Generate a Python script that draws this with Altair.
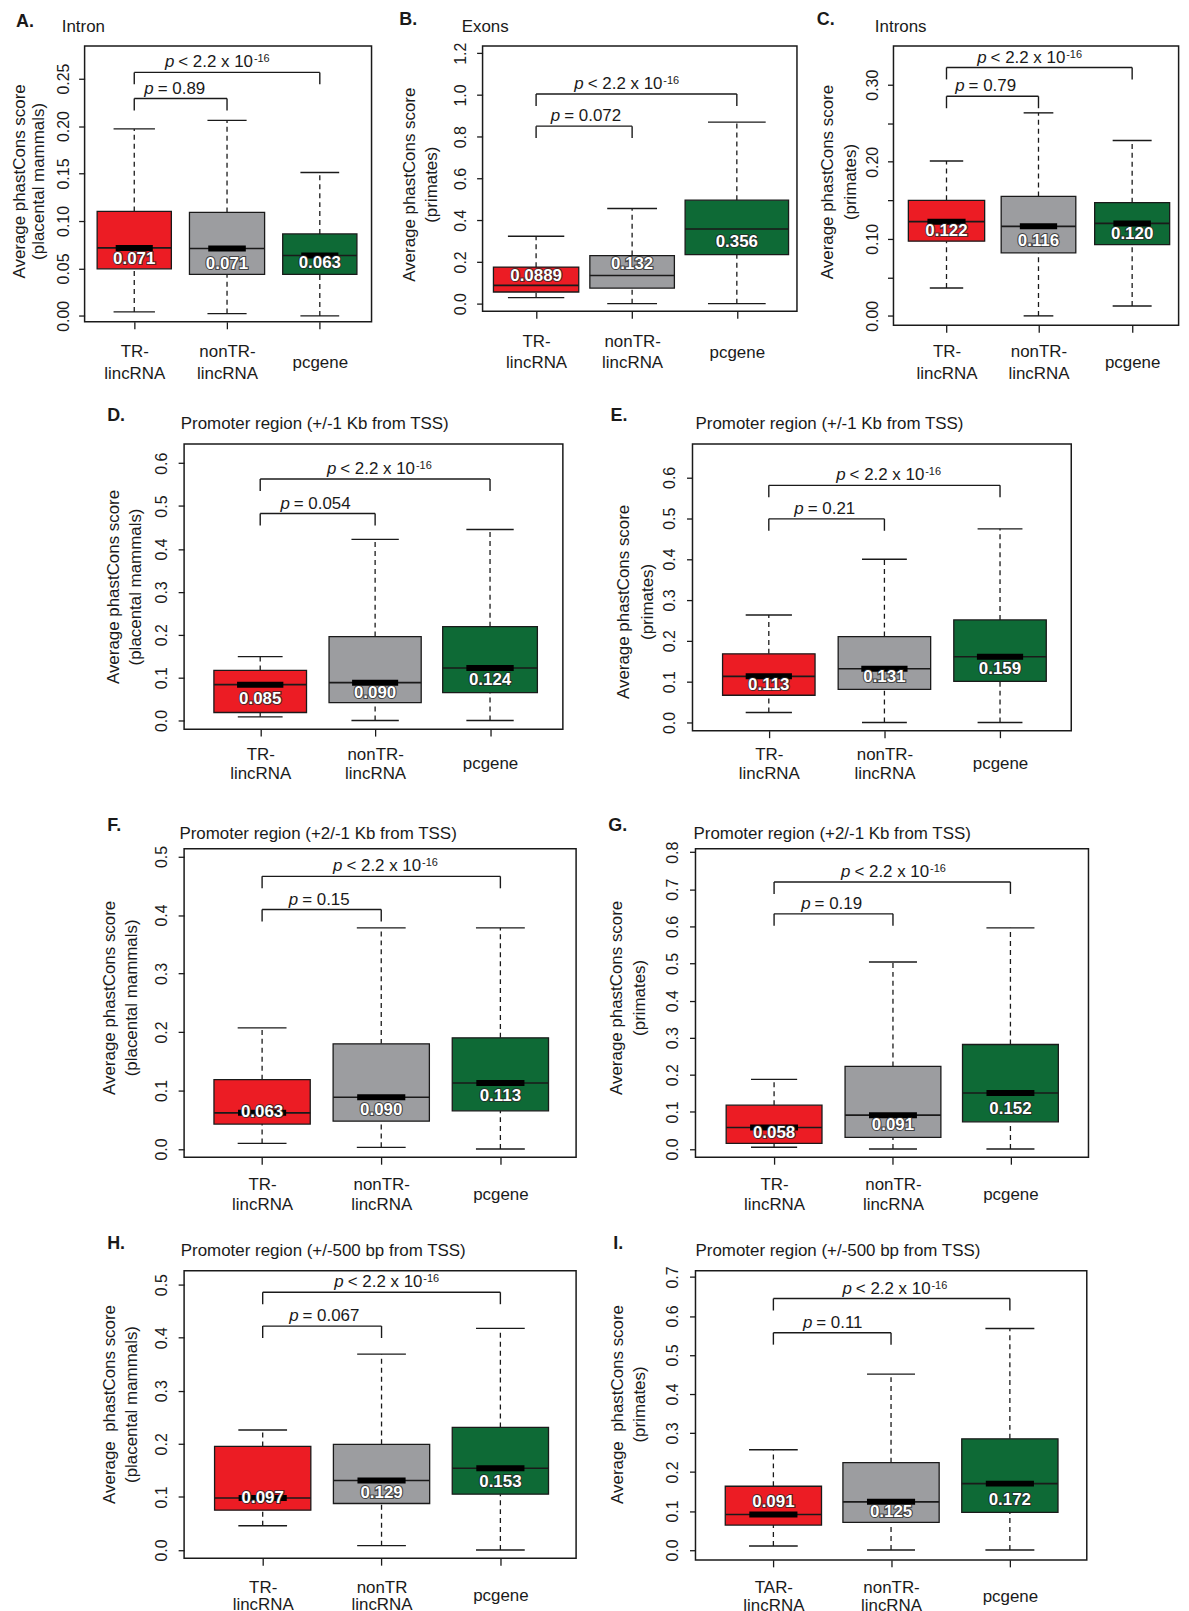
import altair as alt
import pandas as pd

FONT = "Liberation Sans"
INK = "#1a1a1a"

GROUPS = ["TR-lincRNA", "nonTR-lincRNA", "pcgene"]
BOX_FILLS = ["#EC1C24", "#9C9DA0", "#0E6A36"]
OUTER_P = "< 2.2 x 10"
OUTER_EXP = "-16"

# ---------------- data ----------------
# A. Intron (placental mammals)
A_low = [0.0042, 0.0024, 0.0000]
A_q1 = [0.0496, 0.0437, 0.0437]
A_med = [0.0716, 0.0710, 0.0636]
A_q3 = [0.1100, 0.1090, 0.0863]
A_high = [0.1970, 0.2060, 0.1510]
A_text = ["0.071", "0.071", "0.063"]
A_text_y = [0.0600, 0.0549, 0.0556]
A_p = "0.89"
A_bracket_y = [0.2290, 0.2565]

# B. Exons (primates)
B_low = [0.0286, 0.0000, 0.0000]
B_q1 = [0.0556, 0.0747, 0.2350]
B_med = [0.0874, 0.1350, 0.3580]
B_q3 = [0.1750, 0.2305, 0.4960]
B_high = [0.3227, 0.4560, 0.8700]
B_text = ["0.0889", "0.132", "0.356"]
B_text_y = [0.1320, 0.1876, 0.2940]
B_p = "0.072"
B_bracket_y = [0.8506, 1.0048]

# C. Introns (primates)
C_low = [0.0362, 0.0000, 0.0129]
C_q1 = [0.0969, 0.0818, 0.0926]
C_med = [0.1223, 0.1162, 0.1200]
C_q3 = [0.1500, 0.1550, 0.1470]
C_high = [0.2010, 0.2635, 0.2277]
C_text = ["0.122", "0.116", "0.120"]
C_text_y = [0.1098, 0.0969, 0.1068]
C_p = "0.79"
C_bracket_y = [0.2850, 0.3224]

# D. Promoter +/-1 Kb (placental mammals)
D_low = [0.0085, 0.0000, 0.0000]
D_q1 = [0.0186, 0.0418, 0.0650]
D_med = [0.0835, 0.0882, 0.1222]
D_q3 = [0.1168, 0.1957, 0.2189]
D_high = [0.1490, 0.4223, 0.4455]
D_text = ["0.085", "0.090", "0.124"]
D_text_y = [0.0495, 0.0650, 0.0951]
D_p = "0.054"
D_bracket_y = [0.4826, 0.5630]

# E. Promoter +/-1 Kb (primates)
E_low = [0.0244, 0.0000, 0.0000]
E_q1 = [0.0666, 0.0812, 0.1007]
E_med = [0.1129, 0.1315, 0.1608]
E_q3 = [0.1680, 0.2103, 0.2510]
E_high = [0.2630, 0.3995, 0.4740]
E_text = ["0.113", "0.131", "0.159"]
E_text_y = [0.0909, 0.1110, 0.1315]
E_p = "0.21"
E_bracket_y = [0.4985, 0.5805]

# F. Promoter +2/-1 Kb (placental mammals)
F_low = [0.0096, 0.0028, 0.0000]
F_q1 = [0.0425, 0.0476, 0.0652]
F_med = [0.0618, 0.0884, 0.1128]
F_q3 = [0.1185, 0.1797, 0.1900]
F_high = [0.2070, 0.3780, 0.3780]
F_text = ["0.063", "0.090", "0.113"]
F_text_y = [0.0635, 0.0663, 0.0907]
F_p = "0.15"
F_bracket_y = [0.4093, 0.4660]

# G. Promoter +2/-1 Kb (primates)
G_low = [0.0045, 0.0000, 0.0000]
G_q1 = [0.0152, 0.0313, 0.0733]
G_med = [0.0581, 0.0912, 0.1510]
G_q3 = [0.1180, 0.2226, 0.2816]
G_high = [0.1877, 0.5040, 0.5960]
G_text = ["0.058", "0.091", "0.152"]
G_text_y = [0.0420, 0.0644, 0.1064]
G_p = "0.19"
G_bracket_y = [0.6338, 0.7196]

# H. Promoter +/-500 bp (placental mammals)
H_low = [0.0456, 0.0081, 0.0000]
H_q1 = [0.0750, 0.0875, 0.1050]
H_med = [0.0980, 0.1310, 0.1540]
H_q3 = [0.1950, 0.1990, 0.2310]
H_high = [0.2260, 0.3690, 0.4175]
H_text = ["0.097", "0.129", "0.153"]
H_text_y = [0.0980, 0.1080, 0.1280]
H_p = "0.067"
H_bracket_y = [0.4219, 0.4856]

# I. Promoter +/-500 bp (primates)
I_low = [0.0102, 0.0000, 0.0000]
I_q1 = [0.0638, 0.0706, 0.0961]
I_med = [0.0910, 0.1233, 0.1701]
I_q3 = [0.1633, 0.2237, 0.2850]
I_high = [0.2569, 0.4508, 0.5680]
I_text = ["0.091", "0.125", "0.172"]
I_text_y = [0.1233, 0.0978, 0.1276]
I_p = "0.11"
I_bracket_y = [0.5571, 0.6447]

LABELS_STD = ["TR-\nlincRNA", "nonTR-\nlincRNA", "pcgene"]
LABELS_H = ["TR-\nlincRNA", "nonTR\nlincRNA", "pcgene"]
LABELS_I = ["TAR-\nlincRNA", "nonTR-\nlincRNA", "pcgene"]

TITLE_MAM = ["Average phastCons score", "(placental mammals)"]
TITLE_PRI = ["Average phastCons score", "(primates)"]
TITLE_MAM2 = ["Average\u00a0\u00a0phastCons score", "(placental mammals)"]
TITLE_PRI2 = ["Average\u00a0\u00a0phastCons score", "(primates)"]

DATA = {
    "A": (A_low, A_q1, A_med, A_q3, A_high, A_text, A_text_y, A_p, A_bracket_y),
    "B": (B_low, B_q1, B_med, B_q3, B_high, B_text, B_text_y, B_p, B_bracket_y),
    "C": (C_low, C_q1, C_med, C_q3, C_high, C_text, C_text_y, C_p, C_bracket_y),
    "D": (D_low, D_q1, D_med, D_q3, D_high, D_text, D_text_y, D_p, D_bracket_y),
    "E": (E_low, E_q1, E_med, E_q3, E_high, E_text, E_text_y, E_p, E_bracket_y),
    "F": (F_low, F_q1, F_med, F_q3, F_high, F_text, F_text_y, F_p, F_bracket_y),
    "G": (G_low, G_q1, G_med, G_q3, G_high, G_text, G_text_y, G_p, G_bracket_y),
    "H": (H_low, H_q1, H_med, H_q3, H_high, H_text, H_text_y, H_p, H_bracket_y),
    "I": (I_low, I_q1, I_med, I_q3, I_high, I_text, I_text_y, I_p, I_bracket_y),
}


def steps(n, d):
    return [round(i * d, 3) for i in range(n + 1)]


# ---------------- layout (page pixel geometry, sizes, styles) ----------------
# frame = (left, right, bottom); the frame top is shared by the row.
# ycal = (page y of value 0, pixels per unit); xcal = (page x of box 1, pixels per unit)
# The first row's invisible cell starts above the page (TOP_CELL) and the negative
# top padding brings page coordinates back to the layout coordinates used here.
TOP_CELL = -20
PAGE_TOP_SHIFT = 13   # page offset of the chart's top edge (body margin + embed offset)
ROWS = [
    dict(keys=["A", "B", "C"], top=46, cell_top=TOP_CELL, cell_bottom=395, bounds=[9, 385, 805, 1180]),
    dict(keys=["D", "E"], top=444, cell_top=395, cell_bottom=800, bounds=[9, 585, 1180]),
    dict(keys=["F", "G"], top=849, cell_top=800, cell_bottom=1222, bounds=[9, 592, 1180]),
    dict(keys=["H", "I"], top=1271, cell_top=1222, cell_bottom=1611, bounds=[9, 592, 1180]),
]
TEXT_DY = 0.0

LAYOUT = {
    "A": dict(frame=(83.3, 371.7, 323.3), ycal=(317.33, 954.0), xcal=(133.2, 93.25), pos=[1, 2, 3],
              box_hw=[0.40, 0.405, 0.40], cap_hw=[0.223, 0.211, 0.209], thick=True,
              yticks=steps(5, 0.05), yfmt=".2f", ykeep=False, ylabpad=10.3,
              ytitle=TITLE_MAM, ytx=-60.7, ytc=181.7, ylh=19,
              xlabels=LABELS_STD, xoff=35, xlh=21.7, pin_dx=-27, pout_dx=-53,
              letter=("A.", 14, 20.7), title=("Intron", 60, 25.7)),
    "B": dict(frame=(480.7, 796.7, 312.7), ycal=(305.0, 209.67), xcal=(534.5, 97.0), pos=[1, 1.995, 3.08],
              box_hw=[0.442, 0.438, 0.536], cap_hw=[0.292, 0.258, 0.299], thick=False,
              yticks=steps(6, 0.2), yfmt=".1f", ykeep=False, ylabpad=11.2,
              ytitle=TITLE_PRI, ytx=-68.6, ytc=185.0, ylh=22,
              xlabels=LABELS_STD, xoff=35, xlh=21.7, pin_dx=-24, pout_dx=-53,
              letter=("B.", 397.3, 19.3), title=("Exons", 460, 26)),
    "C": dict(frame=(891.7, 1178.3, 326.7), ycal=(317.33, 774.4), xcal=(945.0, 93.3), pos=[1, 1.991, 3.0],
              box_hw=[0.411, 0.402, 0.404], cap_hw=[0.18, 0.16, 0.21], thick=True,
              yticks=steps(6, 0.05), yfmt=".2f", ykeep=True, ylabpad=10.3,
              ytitle=TITLE_PRI, ytx=-60.8, ytc=182.3, ylh=23,
              xlabels=LABELS_STD, xoff=31.6, xlh=21.7, pin_dx=-28, pout_dx=-53,
              letter=("C.", 815, 19.3), title=("Introns", 873.3, 26)),
    "D": dict(frame=(184.3, 565.0, 730.7), ycal=(722.0, 431.0), xcal=(260.8, 115.5), pos=[1, 2, 3],
              box_hw=[0.403, 0.401, 0.412], cap_hw=[0.195, 0.206, 0.206], thick=True,
              yticks=steps(6, 0.1), yfmt=".1f", ykeep=False, ylabpad=11.9,
              ytitle=TITLE_MAM, ytx=-65.9, ytc=587.3, ylh=21.7,
              xlabels=LABELS_STD, xoff=31, xlh=18.3, pin_dx=-28, pout_dx=-39,
              letter=("D.", 106.7, 415), title=("Promoter region (+/-1 Kb from TSS)", 180.7, 422.7)),
    "E": dict(frame=(693.3, 1074.0, 732.3), ycal=(724.0, 410.6), xcal=(770.0, 116.2), pos=[1, 2, 3],
              box_hw=[0.40, 0.40, 0.40], cap_hw=[0.2, 0.194, 0.194], thick=True,
              yticks=steps(6, 0.1), yfmt=".1f", ykeep=False, ylabpad=11.6,
              ytitle=TITLE_PRI, ytx=-63.9, ytc=602.3, ylh=24,
              xlabels=LABELS_STD, xoff=29.4, xlh=18.3, pin_dx=-23, pout_dx=-39,
              letter=("E.", 610.7, 415), title=("Promoter region (+/-1 Kb from TSS)", 696, 422.7)),
    "F": dict(frame=(184.3, 578.3, 1159.0), ycal=(1150.7, 588.0), xcal=(262.7, 119.75), pos=[1, 2, 3],
              box_hw=[0.404, 0.404, 0.404], cap_hw=[0.205, 0.205, 0.205], thick=True,
              yticks=steps(5, 0.1), yfmt=".1f", ykeep=False, ylabpad=11.9,
              ytitle=TITLE_MAM, ytx=-70.2, ytc=998.3, ylh=22,
              xlabels=LABELS_STD, xoff=32.7, xlh=20, pin_dx=-23.6, pout_dx=-39,
              letter=("F.", 106.7, 825), title=("Promoter region (+2/-1 Kb from TSS)", 179.3, 833.3)),
    "G": dict(frame=(695.7, 1090.7, 1159.0), ycal=(1150.7, 372.9), xcal=(774.7, 118.9), pos=[1, 2.005, 2.998],
              box_hw=[0.405, 0.405, 0.405], cap_hw=[0.195, 0.203, 0.203], thick=True,
              yticks=steps(8, 0.1), yfmt=".1f", ykeep=False, ylabpad=12.3,
              ytitle=TITLE_PRI, ytx=-74.6, ytc=998.3, ylh=23.3,
              xlabels=LABELS_STD, xoff=32.7, xlh=20, pin_dx=-23, pout_dx=-42,
              letter=("G.", 608.3, 825), title=("Promoter region (+2/-1 Kb from TSS)", 694, 833.3)),
    "H": dict(frame=(184.3, 578.3, 1560.0), ycal=(1551.7, 533.3), xcal=(263.3, 119.45), pos=[1, 2, 3],
              box_hw=[0.405, 0.405, 0.405], cap_hw=[0.205, 0.205, 0.205], thick=True,
              yticks=steps(5, 0.1), yfmt=".1f", ykeep=False, ylabpad=11.9,
              ytitle=TITLE_MAM2, ytx=-70.2, ytc=1405.0, ylh=22,
              xlabels=LABELS_H, xoff=34, xlh=18, pin_dx=-23.7, pout_dx=-38,
              letter=("H.", 106.7, 1243.3), title=("Promoter region (+/-500 bp from TSS)", 180.7, 1250.7)),
    "I": dict(frame=(695.7, 1089.0, 1561.7), ycal=(1551.7, 391.9), xcal=(774.0, 118.85), pos=[1, 1.995, 3.0],
              box_hw=[0.407, 0.407, 0.407], cap_hw=[0.206, 0.203, 0.207], thick=True,
              yticks=steps(7, 0.1), yfmt=".1f", ykeep=False, ylabpad=12.3,
              ytitle=TITLE_PRI2, ytx=-73.8, ytc=1405.0, ylh=22.5,
              xlabels=LABELS_I, xoff=33, xlh=18, pin_dx=-20, pout_dx=-40,
              letter=("I.", 613.3, 1243.3), title=("Promoter region (+/-500 bp from TSS)", 696, 1250.7)),
}


def x_axis(L):
    parts = []
    for lab in L["xlabels"]:
        parts.append("[" + ", ".join("'" + s + "'" for s in lab.split("\n")) + "]")
    expr = f"datum.value < 1.5 ? {parts[0]} : (datum.value < 2.5 ? {parts[1]} : {parts[2]})"
    return alt.Axis(values=L["pos"], labelExpr=expr, title=None, grid=False, domain=False,
                    tickSize=7, tickWidth=1.3, tickColor=INK,
                    labelFont=FONT, labelFontSize=17, labelColor=INK,
                    labelLineHeight=L["xlh"], labelPadding=L["xoff"] - 12,
                    labelAlign="center",
                    labelBaseline={"condition": {"test": "datum.value > 2.5", "value": "line-top"},
                                   "value": "middle"},
                    labelOverlap=False, labelFlush=False)


def y_axis(L, fy):
    kw = dict(values=L["yticks"], format=L["yfmt"], grid=False, domain=False,
              tickSize=6, tickWidth=1.3, tickColor=INK,
              labelFont=FONT, labelFontSize=16, labelColor=INK, labelAngle=270,
              labelAlign="center", labelBaseline="alphabetic", labelPadding=L["ylabpad"],
              labelOverlap=False, labelFlush=False,
              title=L["ytitle"], titleFont=FONT, titleFontSize=17, titleFontWeight="normal",
              titleColor=INK, titleAngle=270, titleAlign="center", titleBaseline="alphabetic",
              titleX=L["ytx"], titleY=L["ytc"] - fy, titleLineHeight=L["ylh"])
    if L["ykeep"]:
        kw["labelExpr"] = "round(datum.value * 100) % 10 == 0 ? datum.label : ''"
    return alt.Axis(**kw)


ONE = pd.DataFrame({"k": [0]})


def build(key, fy, cl, cr, ct, cb):
    lo, q1, med, q3, hi, mtext, ty, pin, by = DATA[key]
    L = LAYOUT[key]
    fx0, fr0, fb0 = L["frame"]
    fx = float(round(fx0))           # snap the frame origin to whole pixels
    fw = fr0 - fx0
    fh = fb0 - fy
    y0, ppu = L["ycal"]
    c1, u = L["xcal"]
    pos = L["pos"]

    xs = alt.Scale(domain=[1 - (c1 - fx0) / u, 1 + (fr0 - c1) / u], nice=False, zero=False)
    ys = alt.Scale(domain=[(y0 - fb0) / ppu, (y0 - fy) / ppu], nice=False, zero=False)
    xa = x_axis(L)
    ya = y_axis(L, fy)

    def X(f):
        return alt.X(f, scale=xs, axis=xa)

    def Y(f):
        return alt.Y(f, scale=ys, axis=ya)

    spacer = alt.Chart(ONE).mark_rect(opacity=0).encode(
        x=alt.value(cl - fx), x2=alt.value(cr - fx),
        y=alt.value(ct - fy), y2=alt.value(cb - fy))

    df = pd.DataFrame({"g": GROUPS, "pos": pos, "hw": L["box_hw"], "cw": L["cap_hw"],
                       "lo": lo, "q1": q1, "med": med, "q3": q3, "hi": hi,
                       "mtext": mtext, "ty": ty, "fill": BOX_FILLS})
    base = alt.Chart(df).transform_calculate(
        x0="datum.pos - datum.hw", x1="datum.pos + datum.hw",
        c0="datum.pos - datum.cw", c1="datum.pos + datum.cw",
        t0="datum.pos - 0.5 * datum.hw", t1="datum.pos + 0.5 * datum.hw")

    dash = dict(color=INK, strokeWidth=1.3, strokeDash=[5, 4])
    w_up = base.mark_rule(**dash).encode(x=X("pos:Q"), y=Y("q3:Q"), y2="hi:Q")
    w_dn = base.mark_rule(**dash).encode(x=X("pos:Q"), y=Y("lo:Q"), y2="q1:Q")
    cap_hi = base.mark_rule(color=INK, strokeWidth=1.4).encode(x=X("c0:Q"), x2="c1:Q", y=Y("hi:Q"))
    cap_lo = base.mark_rule(color=INK, strokeWidth=1.4).encode(x=X("c0:Q"), x2="c1:Q", y=Y("lo:Q"))
    box = base.mark_rect(stroke=INK, strokeWidth=1.3).encode(
        x=X("x0:Q"), x2="x1:Q", y=Y("q1:Q"), y2="q3:Q",
        color=alt.Color("fill:N", scale=None))
    medl = base.mark_rule(color=INK, strokeWidth=1.6).encode(x=X("x0:Q"), x2="x1:Q", y=Y("med:Q"))
    layers = [spacer, w_up, w_dn, cap_hi, cap_lo, box, medl]
    if L["thick"]:
        layers.append(base.mark_rule(color="black", strokeWidth=6).encode(
            x=X("t0:Q"), x2="t1:Q", y=Y("med:Q")))
    tstyle = dict(font=FONT, fontSize=17, fontWeight="bold", baseline="middle", align="center")
    halo = base.mark_text(color="#262626", stroke="#262626", strokeWidth=2.2,
                          strokeOpacity=0.75, **tstyle).encode(
        x=X("pos:Q"), y=Y("ty:Q"), text="mtext:N")
    vtxt = base.mark_text(color="white", **tstyle).encode(
        x=X("pos:Q"), y=Y("ty:Q"), text="mtext:N")
    layers += [halo, vtxt]

    bdf = pd.DataFrame({"x1": [pos[0], pos[0]], "x2": [pos[1], pos[2]], "y": by,
                        "which": ["inner", "outer"], "ptext": ["= " + pin, OUTER_P],
                        "exp": ["", OUTER_EXP]})
    bb = alt.Chart(bdf).transform_calculate(mid="(datum.x1 + datum.x2) / 2")
    bar = bb.mark_rule(color=INK, strokeWidth=1.4).encode(x=X("x1:Q"), x2="x2:Q", y=Y("y:Q"))
    leg1 = bb.mark_rule(color=INK, strokeWidth=1.4, y2Offset=12).encode(
        x=X("x1:Q"), y=Y("y:Q"), y2="y:Q")
    leg2 = bb.mark_rule(color=INK, strokeWidth=1.4, y2Offset=12).encode(
        x=X("x2:Q"), y=Y("y:Q"), y2="y:Q")
    layers += [bar, leg1, leg2]

    pst = dict(font=FONT, fontSize=17, color=INK, baseline="alphabetic", dy=-5)
    inner = bb.transform_filter("datum.which == 'inner'")
    outer = bb.transform_filter("datum.which == 'outer'")
    layers.append(inner.mark_text(text="p", fontStyle="italic", align="right",
                                  dx=L["pin_dx"], **pst).encode(x=X("mid:Q"), y=Y("y:Q")))
    layers.append(inner.mark_text(align="left", dx=L["pin_dx"] + 4, **pst).encode(
        x=X("mid:Q"), y=Y("y:Q"), text="ptext:N"))
    layers.append(outer.mark_text(text="p", fontStyle="italic", align="right",
                                  dx=L["pout_dx"], **pst).encode(x=X("mid:Q"), y=Y("y:Q")))
    layers.append(outer.mark_text(align="left", dx=L["pout_dx"] + 4, **pst).encode(
        x=X("mid:Q"), y=Y("y:Q"), text="ptext:N"))
    layers.append(outer.mark_text(align="left", dx=L["pout_dx"] + 80, dy=-10, font=FONT,
                                  fontSize=11, color=INK, baseline="alphabetic").encode(
        x=X("mid:Q"), y=Y("y:Q"), text="exp:N"))

    lt, lx, ly = L["letter"]
    layers.append(alt.Chart(ONE).mark_text(text=lt, font=FONT, fontSize=18, fontWeight="bold",
                                           align="left", baseline="middle", color=INK).encode(
        x=alt.value(lx - fx), y=alt.value(ly - fy + 1 + TEXT_DY)))
    tt, tx, tyy = L["title"]
    layers.append(alt.Chart(ONE).mark_text(text=tt, font=FONT, fontSize=17,
                                           align="left", baseline="middle", color=INK).encode(
        x=alt.value(tx - fx), y=alt.value(tyy - fy + 1 + TEXT_DY)))

    return alt.layer(*layers).properties(width=fw, height=fh)


def lead():
    # 1-px invisible lead cell so that every row starts at the same left edge
    return alt.Chart(ONE).mark_rect(opacity=0).encode(
        x=alt.value(0), x2=alt.value(1), y=alt.value(0), y2=alt.value(1)
    ).properties(width=1, height=1, view=alt.ViewBackground(stroke=None))


rows = []
for R in ROWS:
    panels = [lead()]
    b = R["bounds"]
    for i, k in enumerate(R["keys"]):
        panels.append(build(k, float(R["top"]), b[i], b[i + 1], R["cell_top"], R["cell_bottom"]))
    rows.append(alt.hconcat(*panels, spacing=0))

chart = alt.vconcat(*rows, spacing=0).properties(
    padding={"left": 0, "right": 0, "top": TOP_CELL - PAGE_TOP_SHIFT, "bottom": 0},
    background="white"
).configure(font=FONT, view=alt.ViewConfig(stroke=INK, strokeWidth=1.5))

chart.save("out.html", embed_options={"renderer": "svg", "actions": False})
